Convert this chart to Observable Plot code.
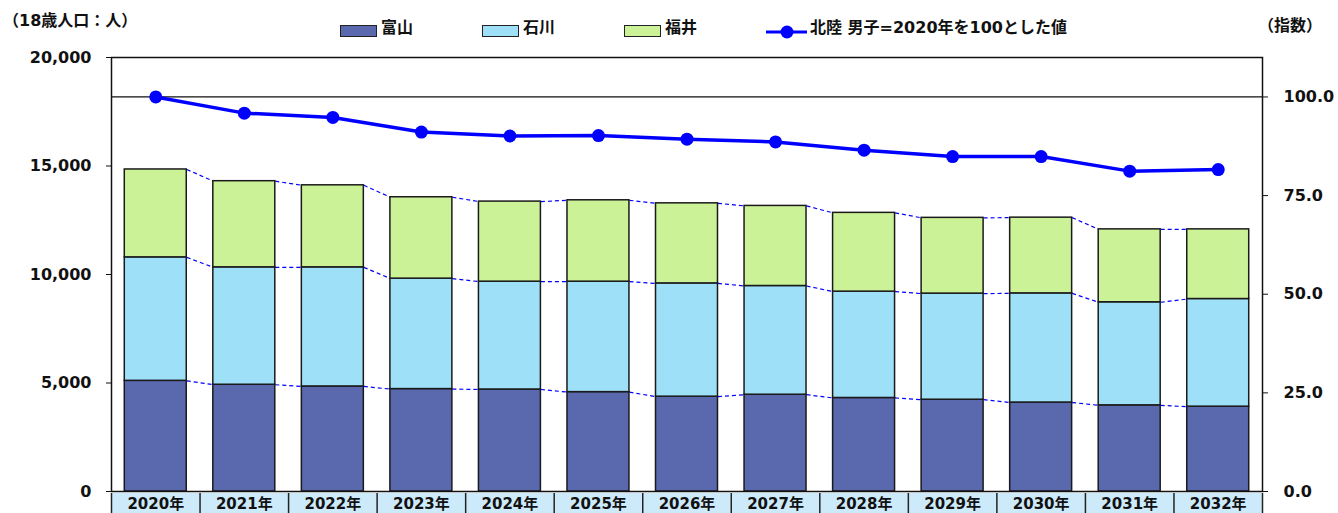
<!DOCTYPE html>
<html><head><meta charset="utf-8">
<script src="https://cdn.jsdelivr.net/npm/d3@7"></script>
<script src="https://cdn.jsdelivr.net/npm/@observablehq/plot@0.6"></script>
<style>
html,body{margin:0;padding:0;background:#fff;overflow:hidden;}
body{font-family:"DejaVu Sans","Noto Sans CJK JP",sans-serif;font-weight:bold;color:#111;}
#head{position:relative;width:1338px;height:45px;}
#head .t{position:absolute;font-size:16px;line-height:16px;white-space:nowrap;}
#head .sw{position:absolute;width:35px;height:10px;border:1.5px solid #222;}
#chart svg{display:block;}
</style></head><body>
<div id="head"></div>
<div id="chart"></div>
<script>
const years = [2020,2021,2022,2023,2024,2025,2026,2027,2028,2029,2030,2031,2032];
const toyama   = [5100,4920,4840,4720,4700,4580,4370,4460,4310,4230,4100,3970,3910];
const ishikawa = [5690,5410,5490,5090,4970,5090,5220,5010,4900,4890,5030,4750,4960];
const fukui    = [4050,3970,3780,3750,3690,3750,3690,3690,3630,3490,3490,3360,3210];
const indexMale = [100.0,95.9,94.8,91.1,90.1,90.2,89.3,88.6,86.5,84.9,84.9,81.2,81.6];
const seriesNames = ["富山","石川","福井"];
const seriesColors = ["#5a68ae","#9ee0f7","#ccf298"];
const lineName = "北陸 男子=2020年を100とした値";
const leftTicks = [0,5000,10000,15000,20000];
const rightTicks = [0,25,50,75,100];
const leftUnit = "（18歳人口：人）";
const rightUnit = "（指数）";
const leftMax = 20000, rightMax = 110;
const k = leftMax / rightMax;
const hw = 0.35;
const font = '"DejaVu Sans","Noto Sans CJK JP",sans-serif';

// header (units + legend)
const head = document.getElementById("head");
function addText(txt, left, top){ const d=document.createElement("div"); d.className="t"; d.textContent=txt; d.style.left=left+"px"; d.style.top=top+"px"; head.appendChild(d); }
addText(leftUnit, 3, 13);
addText(rightUnit, 1258, 18);
const swLeft = [340, 482, 624];
seriesNames.forEach((n,j)=>{
  const s=document.createElement("div"); s.className="sw"; s.style.left=swLeft[j]+"px"; s.style.top="25px"; s.style.background=seriesColors[j]; head.appendChild(s);
  addText(n, swLeft[j]+41, 20);
});
const ls = document.createElementNS("http://www.w3.org/2000/svg","svg");
ls.setAttribute("width","44"); ls.setAttribute("height","16");
ls.style.position="absolute"; ls.style.left="766px"; ls.style.top="24px";
ls.innerHTML='<line x1="0" x2="41" y1="8" y2="8" stroke="#0000ff" stroke-width="3"/><circle cx="21" cy="8" r="6.5" fill="#0000ff"/>';
head.appendChild(ls);
addText(lineName, 810, 20);

// stacked data
const rows = [];
const levels = [[],[],[]];
years.forEach((y,i)=>{
  let base = 0;
  [toyama,ishikawa,fukui].forEach((s,j)=>{
    rows.push({year:y, series:seriesNames[j], y1:base, y2:base+s[i]});
    base += s[i];
    levels[j].push(base);
  });
});
const links = [];
levels.forEach(lv=>{
  for(let i=0;i<years.length-1;i++) links.push({x1:years[i]+hw, x2:years[i+1]-hw, y1:lv[i], y2:lv[i+1]});
});
const lineData = years.map((y,i)=>({year:y, v:indexMale[i]*k}));
const bounds = years.map(y=>y-0.5).concat([years[years.length-1]+0.5]);

const plot = Plot.plot({
  width:1338, height:486,
  marginTop:12, marginLeft:111, marginRight:76, marginBottom:40,
  style:{fontFamily:font, fontSize:"16px", fontWeight:"bold", color:"#111", background:"transparent", overflow:"visible"},
  x:{domain:[years[0]-0.5, years[years.length-1]+0.5], axis:null},
  y:{domain:[0,leftMax], axis:null},
  color:{domain:seriesNames, range:seriesColors},
  marks:[
    Plot.rect(years,{x1:d=>d-0.5, x2:d=>d+0.5, y1:0, y2:0, insetBottom:-40, dy:2, fill:"#cdeafb"}),
    Plot.ruleX(bounds,{x:d=>d, y1:0, y2:0, insetBottom:-40, dy:2, stroke:"#222", strokeWidth:1.5}),
    Plot.text(years,{x:d=>d, y:0, dy:13, text:d=>d+"年", fontSize:15, fontWeight:"bold", fill:"#111"}),
    Plot.ruleY([100*k],{stroke:"#111", strokeWidth:1.3}),
    Plot.link(links,{x1:"x1", x2:"x2", y1:"y1", y2:"y2", stroke:"#0000ff", strokeWidth:1.2, strokeDasharray:"4 3"}),
    Plot.rect(rows,{x1:d=>d.year-hw, x2:d=>d.year+hw, y1:"y1", y2:"y2", fill:"series", stroke:"#1a1a1a", strokeWidth:1.5}),
    Plot.frame({stroke:"#111", strokeWidth:1.5}),
    Plot.axisY(leftTicks,{anchor:"left", tickFormat:d3.format(","), tickSize:5, tickPadding:15, label:null}),
    Plot.axisY(rightTicks.map(t=>t*k),{anchor:"right", tickFormat:d=>(d/k).toFixed(1), tickSize:5, tickPadding:16, label:null}),
    Plot.line(lineData,{x:"year", y:"v", stroke:"#0000ff", strokeWidth:3.5}),
    Plot.dot(lineData,{x:"year", y:"v", r:6.5, fill:"#0000ff"})
  ]
});
document.getElementById("chart").appendChild(plot);
</script>
</body></html>
